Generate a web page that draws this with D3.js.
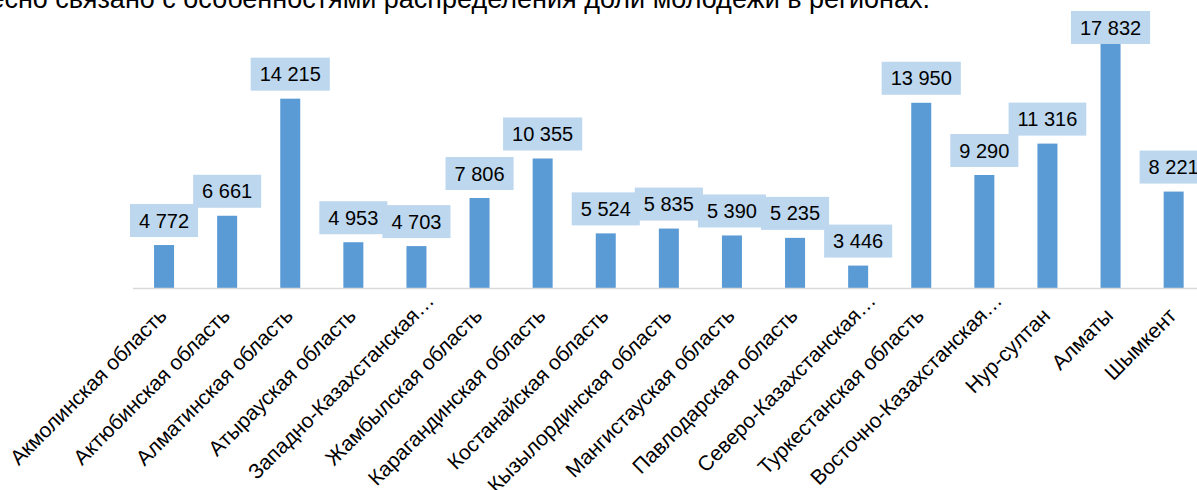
<!DOCTYPE html>
<html>
<head>
<meta charset="utf-8">
<script src="https://cdn.jsdelivr.net/npm/d3@7"></script>
<style>
  html, body { margin: 0; padding: 0; background: #fff; overflow: hidden; }
  svg { display: block; font-family: "Liberation Sans", Arial, sans-serif; }
</style>
</head>
<body>
<svg id="chart" width="1197" height="490"></svg>
<script>
const categories = [
  "Акмолинская область",
  "Актюбинская область",
  "Алматинская область",
  "Атырауская область",
  "Западно-Казахстанская…",
  "Жамбылская область",
  "Карагандинская область",
  "Костанайская область",
  "Кызылординская область",
  "Мангистауская область",
  "Павлодарская область",
  "Северо-Казахстанская…",
  "Туркестанская область",
  "Восточно-Казахстанская…",
  "Нур-султан",
  "Алматы",
  "Шымкент"
];
const values = [4772, 6661, 14215, 4953, 4703, 7806, 10355, 5524, 5835, 5390, 5235, 3446, 13950, 9290, 11316, 17832, 8221];
const valueLabels = ["4 772", "6 661", "14 215", "4 953", "4 703", "7 806", "10 355", "5 524", "5 835", "5 390", "5 235", "3 446", "13 950", "9 290", "11 316", "17 832", "8 221"];
const yDomain = [2000, 20000];
const headText = "тесно связано с особенностями распределения доли молодежи в регионах.";

const svg = d3.select("#chart");

const x = d3.scaleBand()
  .domain(categories)
  .range([132.5, 1205.2])
  .paddingInner(0.683)
  .paddingOuter(0.3415);

const y = d3.scaleLinear().domain(yDomain).range([288, 9]);

// cut-off sentence at top
svg.append("text")
  .attr("x", 930)
  .attr("y", 8)
  .attr("text-anchor", "end")
  .attr("font-size", 27)
  .attr("fill", "#000")
  .text(headText);

// bars
svg.append("g").selectAll("rect")
  .data(values)
  .join("rect")
  .attr("x", (d, i) => x(categories[i]))
  .attr("width", x.bandwidth())
  .attr("y", d => y(d))
  .attr("height", d => y(yDomain[0]) - y(d))
  .attr("fill", "#5B9BD5");

// axis line
const axis = svg.append("g").attr("transform", `translate(0,${y(yDomain[0])})`)
  .call(d3.axisBottom(x).tickSize(0).tickFormat(""));
axis.select(".domain").attr("stroke", "#D9D9D9").attr("stroke-width", 1.5);

// category labels (truncated ones sit further along the diagonal, as in the original)
svg.append("g").selectAll("text")
  .data(categories)
  .join("text")
  .attr("transform", d => {
    const shift = d.endsWith("…") ? 15 : 0;
    return `translate(${x(d) + x.bandwidth() / 2 + 4 + shift},${317 - shift}) rotate(-45)`;
  })
  .attr("text-anchor", "end")
  .attr("font-size", 21)
  .attr("fill", "#000")
  .text(d => d);

// value labels with boxes
const lbl = svg.append("g").selectAll("g")
  .data(values)
  .join("g")
  .attr("transform", (d, i) => `translate(${x(categories[i]) + x.bandwidth() / 2},${Math.max(44, y(d) - 8)})`);

lbl.each(function(d, i) {
  const g = d3.select(this);
  const rect = g.append("rect").attr("fill", "#BDD7EE");
  const t = g.append("text")
    .attr("text-anchor", "middle")
    .attr("y", -9.5)
    .attr("font-size", 20)
    .attr("fill", "#000")
    .text(valueLabels[i]);
  const w = t.node().getComputedTextLength() + 18;
  rect.attr("x", -w / 2).attr("y", -33).attr("width", w).attr("height", 33);
});
</script>
</body>
</html>
